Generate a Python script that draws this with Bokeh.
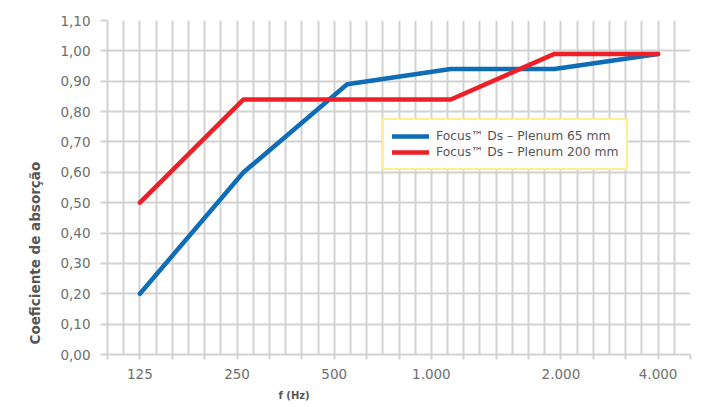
import numpy as np
from bokeh.plotting import figure
from bokeh.models import FixedTicker, CustomJSTickFormatter, Range1d, Title
from bokeh.embed import file_html
from bokeh.resources import INLINE

# ---- data ----
freq_labels = ["125", "250", "500", "1.000", "2.000", "4.000"]
freqs_hz = [125, 250, 500, 1000, 2000, 4000]
plenum_65 = [0.20, 0.60, 0.89, 0.94, 0.94, 0.99]
plenum_200 = [0.50, 0.84, 0.84, 0.84, 0.99, 0.99]
series_names = ["Focus\u2122 Ds \u2013 Plenum 65 mm", "Focus\u2122 Ds \u2013 Plenum 200 mm"]
y_ticks = [i / 10 for i in range(12)]
y_title = "Coeficiente de absorção"
x_title = "f (Hz)"

# ---- layout / style ----
FONT = "DejaVu Sans"
GRID = "#d2d2d2"
BLUE = "#0f6cb6"
RED = "#ee1f27"
TEXT = "#6e6e6e"

octave = np.log2(np.array(freqs_hz) / 125.0)
step = 0.3125
major = [k * step for k in range(-1, 18)]
minor = [k * step + step / 2 for k in range(-1, 17)]
label_idx = [0, 3, 6, 9, 13, 16]
label_pos = [i * step for i in label_idx]

p = figure(width=700, height=407, output_backend="svg", toolbar_location=None,
           x_range=Range1d(-step, 17 * step), y_range=Range1d(0, 1.1),
           min_border_left=107, min_border_right=10, min_border_top=20, min_border_bottom=52)
p.outline_line_color = None
p.background_fill_color = "white"
p.border_fill_color = "white"

p.xaxis.ticker = FixedTicker(ticks=major, minor_ticks=minor)
p.xaxis.formatter = CustomJSTickFormatter(args=dict(pos=label_pos, lab=freq_labels), code="""
for (let i = 0; i < pos.length; i++) { if (Math.abs(tick - pos[i]) < 1e-6) return lab[i]; }
return "";
""")
p.yaxis.ticker = FixedTicker(ticks=y_ticks)
p.yaxis.formatter = CustomJSTickFormatter(code="return tick.toFixed(2).replace('.', ',');")

for ax in (p.xaxis, p.yaxis):
    ax.axis_line_color = GRID
    ax.axis_line_width = 2
    ax.major_tick_line_color = GRID
    ax.major_tick_line_width = 2
    ax.major_tick_in = 0
    ax.minor_tick_line_color = None
    ax.major_label_text_font = FONT
    ax.major_label_text_font_size = "13.5px"
    ax.major_label_text_color = TEXT
p.xaxis.major_tick_out = 5
p.xaxis.major_label_standoff = 9
p.yaxis.major_tick_out = 7
p.yaxis.major_label_standoff = 10

p.xgrid.ticker = p.xaxis.ticker
p.xgrid.grid_line_color = GRID
p.xgrid.grid_line_width = 2
p.xgrid.minor_grid_line_color = GRID
p.xgrid.minor_grid_line_width = 2
p.ygrid.grid_line_color = GRID
p.ygrid.grid_line_width = 2

p.line(octave, plenum_65, color=BLUE, line_width=4.5, line_cap="round", line_join="round",
       legend_label=series_names[0])
p.line(octave, plenum_200, color=RED, line_width=4.5, line_cap="round", line_join="round",
       legend_label=series_names[1])

lg = p.legend[0]
lg.location = (275, 184)
lg.border_line_color = "#ffe01b"
lg.border_line_width = 2
lg.background_fill_color = "white"
lg.background_fill_alpha = 1
lg.label_text_font = FONT
lg.label_text_font_size = "12.3px"
lg.label_text_color = "#555555"
lg.glyph_width = 37
lg.glyph_height = 16
lg.label_height = 16
lg.label_standoff = 7
lg.padding = 8
lg.spacing = 0
lg.margin = 0

p.add_layout(Title(text=y_title, align="left", offset=10, standoff=30,
                   text_font=FONT, text_font_style="bold", text_font_size="13.5px",
                   text_color="#555555"), "left")
p.add_layout(Title(text=x_title, align="left", offset=171, standoff=13,
                   text_font=FONT, text_font_style="bold", text_font_size="10px",
                   text_color="#555555"), "below")

open("out.html", "w").write(file_html(p, INLINE))
